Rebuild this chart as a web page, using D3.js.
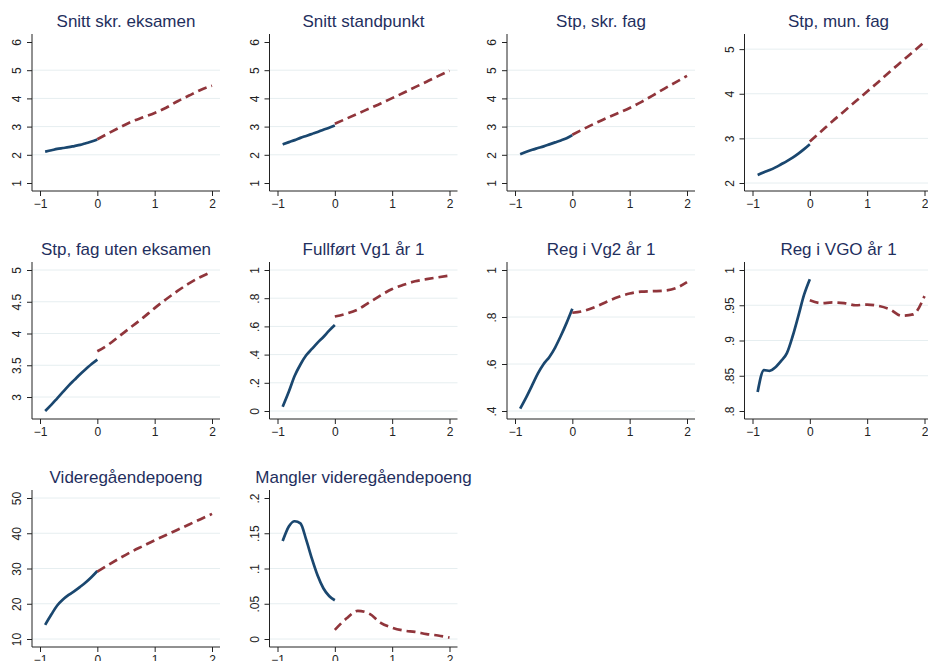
<!DOCTYPE html>
<html>
<head>
<meta charset="utf-8">
<script src="https://cdn.jsdelivr.net/npm/d3@7"></script>
<style>
  body { margin: 0; background: #fff; }
  svg { display: block; font-family: 'Liberation Sans', Arial, sans-serif; }
</style>
</head>
<body>
<div id="chart"></div>
<script>
// panel titles, in reading order
const titles = ['Snitt skr. eksamen', 'Snitt standpunkt', 'Stp, skr. fag', 'Stp, mun. fag',
  'Stp, fag uten eksamen', 'Fullført Vg1 år 1', 'Reg i Vg2 år 1', 'Reg i VGO år 1',
  'Videregåendepoeng', 'Mangler videregåendepoeng']

// x positions of the points before and after the cutoff
const xPre = [-0.91, -0.8, -0.7, -0.6, -0.5, -0.4, -0.3, -0.2, -0.1, 0]
const xPost = [0, 0.2, 0.4, 0.6, 0.8, 1.0, 1.2, 1.4, 1.6, 1.8, 2.0]
const xTicks = [-1, 0, 1, 2]

// values
const skrEksPre = [2.11, 2.16, 2.21, 2.24, 2.27, 2.31, 2.35, 2.41, 2.47, 2.54]
const skrEksPost = [2.55, 2.77, 2.98, 3.18, 3.33, 3.48, 3.67, 3.90, 4.10, 4.30, 4.45]
const standPre = [2.37, 2.45, 2.52, 2.60, 2.67, 2.74, 2.81, 2.89, 2.96, 3.04]
const standPost = [3.10, 3.28, 3.46, 3.64, 3.82, 4.01, 4.20, 4.40, 4.59, 4.79, 4.98]
const skrFagPre = [2.02, 2.11, 2.18, 2.24, 2.30, 2.37, 2.44, 2.51, 2.59, 2.70]
const skrFagPost = [2.71, 2.92, 3.12, 3.31, 3.48, 3.66, 3.87, 4.10, 4.34, 4.57, 4.80]
const munFagPre = [2.18, 2.24, 2.29, 2.35, 2.42, 2.49, 2.57, 2.66, 2.76, 2.87]
const munFagPost = [2.93, 3.16, 3.39, 3.61, 3.83, 4.05, 4.27, 4.50, 4.72, 4.94, 5.16]
const utenEksPre = [2.78, 2.88, 2.98, 3.08, 3.18, 3.27, 3.36, 3.44, 3.52, 3.59]
const utenEksPost = [3.72, 3.83, 3.97, 4.11, 4.25, 4.40, 4.54, 4.67, 4.79, 4.89, 4.97]
const vg1Pre = [0.03, 0.14, 0.25, 0.33, 0.395, 0.44, 0.485, 0.525, 0.57, 0.61]
const vg1Post = [0.67, 0.69, 0.72, 0.77, 0.82, 0.865, 0.895, 0.92, 0.935, 0.948, 0.96]
const vg2Pre = [0.41, 0.46, 0.51, 0.56, 0.60, 0.63, 0.67, 0.72, 0.775, 0.835]
const vg2Post = [0.818, 0.826, 0.843, 0.865, 0.885, 0.90, 0.908, 0.91, 0.912, 0.922, 0.948]
const vgoPre = [0.827, 0.858, 0.857, 0.862, 0.871, 0.882, 0.906, 0.935, 0.965, 0.987]
const vgoPost = [0.957, 0.953, 0.954, 0.953, 0.950, 0.951, 0.949, 0.944, 0.935, 0.937, 0.963]
const poengPre = [14.0, 17.0, 19.5, 21.2, 22.5, 23.6, 24.8, 26.1, 27.6, 29.3]
const poengPost = [29.1, 31.1, 33.0, 34.8, 36.4, 38.0, 39.5, 41.0, 42.5, 44.0, 45.5]
const manglerPre = [0.139, 0.160, 0.167, 0.164, 0.141, 0.114, 0.090, 0.072, 0.061, 0.055]
const manglerPost = [0.013, 0.029, 0.040, 0.036, 0.023, 0.016, 0.012, 0.010, 0.007, 0.005, 0.002]

const yTicks = [
  [1, 2, 3, 4, 5, 6], [1, 2, 3, 4, 5, 6], [1, 2, 3, 4, 5, 6], [2, 3, 4, 5],
  [3, 3.5, 4, 4.5, 5], [0, 0.2, 0.4, 0.6, 0.8, 1], [0.4, 0.6, 0.8, 1], [0.8, 0.85, 0.9, 0.95, 1],
  [10, 20, 30, 40, 50], [0, 0.05, 0.1, 0.15, 0.2]
]

const preSeries = [skrEksPre, standPre, skrFagPre, munFagPre, utenEksPre, vg1Pre, vg2Pre, vgoPre, poengPre, manglerPre]
const postSeries = [skrEksPost, standPost, skrFagPost, munFagPost, utenEksPost, vg1Post, vg2Post, vgoPost, poengPost, manglerPost]

// layout of one panel
const totalWidth = 928, totalHeight = 661
const cellW = 237.5, cellH = 228
const plot = { left: 32, right: 220, top: 34, bottom: 191 }
const inset = 8

const navy = '#1a476f', maroon = '#90353b', titleColor = '#1f2f5e', gridColor = '#e6eef0'

const svg = d3.select('#chart')
  .append('svg')
  .attr('width', totalWidth)
  .attr('height', totalHeight)

svg.append('rect')
  .attr('width', totalWidth)
  .attr('height', totalHeight)
  .attr('fill', '#fff')

// stata style labels: .2 instead of 0.2
const fmtY = v => String(v).replace(/^0\./, '.')

function drawPanel(i) {
  const col = i % 4, row = Math.floor(i / 4)
  const g = svg.append('g')
    .attr('transform', 'translate(' + (col * cellW) + ',' + (row * cellH) + ')')

  const pre = xPre.map((x, k) => ({ x: x, y: preSeries[i][k] }))
  const post = xPost.map((x, k) => ({ x: x, y: postSeries[i][k] }))
  const ticks = yTicks[i]
  const allY = preSeries[i].concat(postSeries[i])

  const x = d3.scaleLinear()
    .domain([-1, 2])
    .range([plot.left + inset, plot.right - inset])

  const y = d3.scaleLinear()
    .domain([Math.min(d3.min(ticks), d3.min(allY)), Math.max(d3.max(ticks), d3.max(allY))])
    .range([plot.bottom - inset, plot.top + inset])

  // gridlines, dropped at end ticks far away from the data
  const span = d3.max(ticks) - d3.min(ticks)
  const gridTicks = ticks.filter(t => t >= d3.min(allY) - 0.12 * span && t <= d3.max(allY) + 0.12 * span)
  g.selectAll('.grid')
    .data(gridTicks)
    .join('line')
    .attr('x1', plot.left)
    .attr('x2', plot.right)
    .attr('y1', d => y(d))
    .attr('y2', d => y(d))
    .attr('stroke', gridColor)
    .attr('stroke-width', 1)

  // Y axis
  const yAxis = g.append('g')
    .attr('transform', 'translate(' + plot.left + ',0)')
    .call(d3.axisLeft(y).tickValues(ticks).tickFormat(fmtY).tickSize(5).tickSizeOuter(0))
  yAxis.select('.domain').remove()
  yAxis.selectAll('line').attr('stroke', '#222')
  yAxis.selectAll('text')
    .attr('x', null)
    .attr('dy', null)
    .attr('transform', 'translate(-11,0) rotate(-90)')
    .attr('text-anchor', 'middle')
    .attr('font-size', 12)
    .attr('fill', '#222')

  // X axis
  const xAxis = g.append('g')
    .attr('transform', 'translate(0,' + plot.bottom + ')')
    .call(d3.axisBottom(x).tickValues(xTicks).tickFormat(d3.format('d')).tickSize(5).tickPadding(3).tickSizeOuter(0))
  xAxis.select('.domain').remove()
  xAxis.selectAll('line').attr('stroke', '#222')
  xAxis.selectAll('text')
    .attr('font-size', 12)
    .attr('fill', '#222')

  // axis lines along the plot region
  g.append('line')
    .attr('x1', plot.left).attr('x2', plot.left)
    .attr('y1', plot.top).attr('y2', plot.bottom)
    .attr('stroke', '#222')
  g.append('line')
    .attr('x1', plot.left).attr('x2', plot.right)
    .attr('y1', plot.bottom).attr('y2', plot.bottom)
    .attr('stroke', '#222')

  const line = d3.line()
    .x(d => x(d.x))
    .y(d => y(d.y))
    .curve(d3.curveMonotoneX)

  g.append('path')
    .datum(pre)
    .attr('fill', 'none')
    .attr('stroke', navy)
    .attr('stroke-width', 2.7)
    .attr('d', line)

  g.append('path')
    .datum(post)
    .attr('fill', 'none')
    .attr('stroke', maroon)
    .attr('stroke-width', 2.7)
    .attr('stroke-dasharray', '9,5')
    .attr('d', line)

  // title
  g.append('text')
    .attr('x', (plot.left + plot.right) / 2)
    .attr('y', 27)
    .attr('text-anchor', 'middle')
    .attr('font-size', 17)
    .attr('fill', titleColor)
    .text(titles[i])
}

titles.forEach((t, i) => drawPanel(i))
</script>
</body>
</html>
